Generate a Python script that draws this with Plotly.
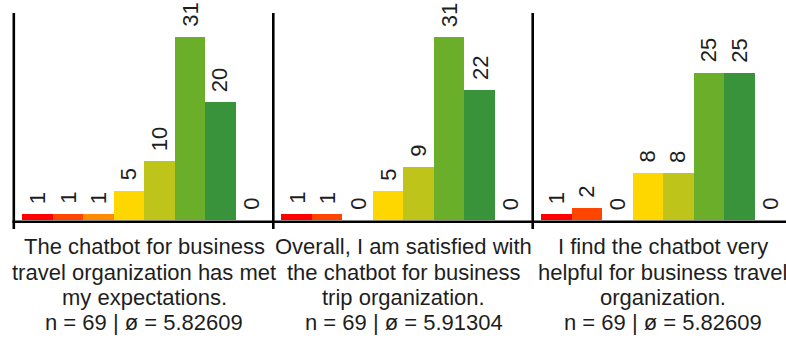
import plotly.graph_objects as go

# Survey answers on a 7-point scale plus "no answer"
categories = ["1", "2", "3", "4", "5", "6", "7", "k.A."]
questions = [
    ["The chatbot for business", "travel organization has met", "my expectations."],
    ["Overall, I am satisfied with", "the chatbot for business", "trip organization."],
    ["I find the chatbot very", "helpful for business travel", "organization."],
]
counts_q1 = [1, 1, 1, 5, 10, 31, 20, 0]
counts_q2 = [1, 1, 0, 5, 9, 31, 22, 0]
counts_q3 = [1, 2, 0, 8, 8, 25, 25, 0]
sample_sizes = [69, 69, 69]
means = ["5.82609", "5.91304", "5.82609"]

bar_colors = ["#FF0000", "#FF4500", "#FF8C00", "#FFD700",
              "#BFC41A", "#6AAE2A", "#38933A", "#FFFFFF"]

W, H = 786, 338
FONT = "Liberation Sans, Arial, sans-serif"
TEXT_COLOR = "#1e1e1e"


def px_x(px):
    return px / W


def px_y(py):
    return 1 - py / H


# pixel geometry of the three panels
axis_left = [13.8, 273.3, 532.7]
panel_w = 259.4
slot = 30.5
inset = 8.2
base_px = 220.0
top_px = 13.0
px_per_unit = 5.9

all_counts = [counts_q1, counts_q2, counts_q3]
fig = go.Figure()
annotations = []
shapes = []

for k, counts in enumerate(all_counts):
    xa = "x" if k == 0 else f"x{k + 1}"
    left = axis_left[k]
    right = min(left + panel_w, W)
    xs = list(range(len(categories)))
    fig.add_trace(go.Bar(
        x=xs, y=counts, xaxis=xa, yaxis="y",
        marker=dict(color=bar_colors, line=dict(width=0)),
        width=1.0, showlegend=False, hoverinfo="skip",
    ))
    lo = -0.5 - inset / slot
    hi = -0.5 + (right - left - inset) / slot
    axis_key = "xaxis" if k == 0 else f"xaxis{k + 1}"
    fig.layout[axis_key] = dict(
        domain=[px_x(left), px_x(right)], range=[lo, hi],
        visible=False, anchor="y", fixedrange=True,
    )
    # value labels above the bars
    for i, v in enumerate(counts):
        annotations.append(dict(
            x=i, y=v, xref=xa, yref="y", text=str(v),
            textangle=-90, showarrow=False, yanchor="bottom",
            xanchor="center", yshift=8,
            font=dict(family=FONT, size=22, color=TEXT_COLOR),
        ))
    # question text below each panel
    center = left + inset + slot * len(categories) / 2
    lines = questions[k] + [f"n = {sample_sizes[k]} | ø = {means[k]}"]
    for j, line in enumerate(lines):
        annotations.append(dict(
            x=px_x(center), y=px_y(247 + 25.2 * j), xref="paper", yref="paper",
            text=line, showarrow=False, xanchor="center", yanchor="middle",
            font=dict(family=FONT, size=22, color=TEXT_COLOR),
        ))
    # vertical axis line
    shapes.append(dict(
        type="line", xref="paper", yref="paper",
        x0=px_x(left), x1=px_x(left), y0=px_y(top_px), y1=px_y(229),
        line=dict(color="black", width=2.6),
    ))

# common baseline
shapes.append(dict(
    type="line", xref="paper", yref="paper",
    x0=px_x(12.5), x1=1, y0=px_y(221.7), y1=px_y(221.7),
    line=dict(color="black", width=2.6),
))

y_max = (base_px - top_px) / px_per_unit
fig.update_layout(
    width=W, height=H,
    margin=dict(l=0, r=0, t=0, b=0),
    paper_bgcolor="white", plot_bgcolor="white",
    bargap=0,
    yaxis=dict(domain=[px_y(base_px), px_y(top_px)], range=[0, y_max],
               visible=False, fixedrange=True),
    annotations=annotations,
    shapes=shapes,
)
for tr in fig.data:
    tr.cliponaxis = False

fig.write_html("out.html", config={"displayModeBar": False})
